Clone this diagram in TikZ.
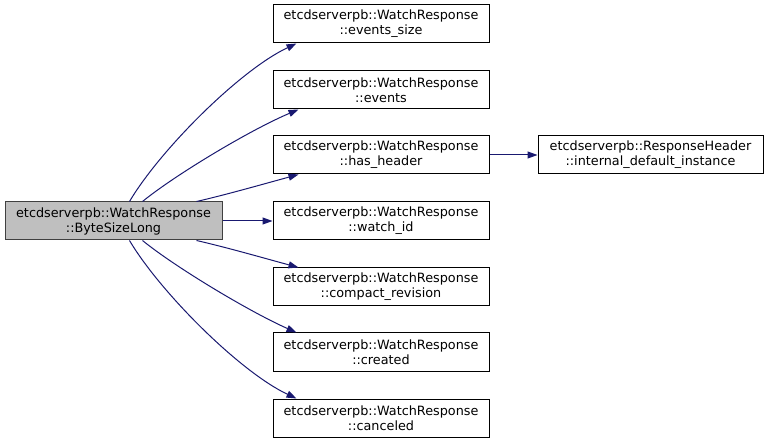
\documentclass[tikz,border=0pt]{standalone}
\usepackage{fontspec}
\setmainfont{DejaVu Sans}
\usetikzlibrary{arrows.meta,calc}
\definecolor{edgecol}{HTML}{191970}
\definecolor{mainfill}{HTML}{BFBFBF}
\definecolor{mainborder}{HTML}{404040}
\begin{document}
\begin{tikzpicture}[x=1pt,y=-1pt,
  fn/.style={draw=black,line width=1pt,fill=white,inner sep=0pt,align=center,
    font=\fontsize{12.8}{15}\selectfont,minimum height=38pt},
  mid/.style={fn,minimum width=216pt},
  call/.style={draw=edgecol,line width=1pt,-{Triangle[length=10pt,width=7pt]}}]
\useasboundingbox (0,0) rectangle (768,443);

\node[fn,fill=mainfill,draw=mainborder,minimum width=217pt] (main) at (113.5,221) {etcdserverpb::WatchResponse\\::ByteSizeLong};

\node[mid] (es) at (381,24) {etcdserverpb::WatchResponse\\::events\_size};
\node[mid] (ev) at (381,90) {etcdserverpb::WatchResponse\\::events};
\node[mid] (hh) at (381,155) {etcdserverpb::WatchResponse\\::has\_header};
\node[mid] (wi) at (381,221) {etcdserverpb::WatchResponse\\::watch\_id};
\node[mid] (cr) at (381,287) {etcdserverpb::WatchResponse\\::compact\_revision};
\node[mid] (cd) at (381,352) {etcdserverpb::WatchResponse\\::created};
\node[mid] (ca) at (381,418) {etcdserverpb::WatchResponse\\::canceled};

\node[fn,minimum width=225pt] (rh) at (650.5,155) {etcdserverpb::ResponseHeader\\::internal\_default\_instance};

\draw[call] ($(main.north west)+(125,0)$) .. controls (160,150) and (240,70) .. ($(es.south west)+(24,0)$);
\draw[call] ($(main.north west)+(138,0)$) .. controls (175,175) and (250,130) .. ($(ev.south west)+(26,0)$);
\draw[call] ($(main.north west)+(192,0)$) .. controls (225,195) and (260,185) .. ($(hh.south west)+(26,0)$);
\draw[call] (main.east) -- (wi.west);
\draw[call] ($(main.south west)+(192,0)$) .. controls (225,247) and (260,257) .. ($(cr.north west)+(26,0)$);
\draw[call] ($(main.south west)+(138,0)$) .. controls (175,267) and (250,312) .. ($(cd.north west)+(24,0)$);
\draw[call] ($(main.south west)+(125,0)$) .. controls (160,292) and (240,372) .. ($(ca.north west)+(24,0)$);
\draw[call] (hh.east) -- (rh.west);
\end{tikzpicture}
\end{document}
